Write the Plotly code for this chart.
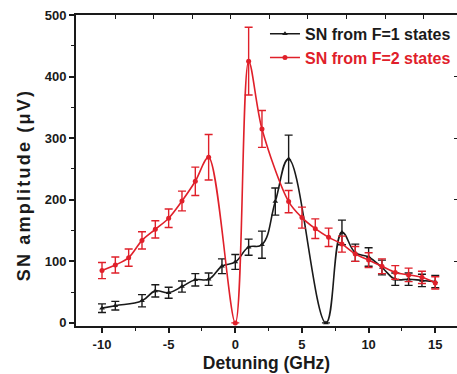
import plotly.graph_objects as go

# F=1 states (black, triangles)
f1_x = [-10, -9, -7, -6, -5, -4, -3, -2, -1, 0, 1, 2, 3, 4, 6.8, 8, 9, 10, 11, 12, 13, 14, 15]
f1_y = [24, 28, 36, 52, 49, 59, 70, 71, 92, 99, 123, 127, 197, 266, 0, 147, 114, 107, 90, 71, 71, 69, 67]
f1_err = [7, 7, 10, 10, 9, 9, 10, 10, 12, 12, 13, 22, 22, 39, 0, 20, 14, 15, 12, 10, 10, 10, 10]

# F=2 states (red, circles)
f2_x = [-10, -9, -8, -7, -6, -5, -4, -3, -2, 0, 1, 2, 4, 5, 6, 7, 8, 9, 10, 11, 12, 13, 14, 15]
f2_y = [85, 94, 106, 134, 152, 170, 198, 230, 269, 0, 425, 315, 197, 171, 153, 139, 128, 112, 102, 92, 82, 78, 74, 65]
f2_err = [13, 13, 14, 14, 14, 15, 16, 23, 37, 0, 55, 30, 18, 17, 16, 15, 13, 12, 12, 12, 11, 11, 10, 10]

x_ticks = [-10, -5, 0, 5, 10, 15]
y_ticks = [0, 100, 200, 300, 400, 500]
top_ticks = [-9.0, -6.1, -3.2, -0.35, 2.55, 5.45, 8.35, 11.25, 14.15]

BLACK = "#1a1a1a"
RED = "#e0202a"
FONT = "Arial, Liberation Sans, sans-serif"

fig = go.Figure()
fig.add_trace(go.Scatter(
    x=f1_x, y=f1_y, mode="lines+markers",
    name="<b>SN from F=1 states</b>",
    line=dict(color=BLACK, width=1.6, shape="spline", smoothing=1.2),
    marker=dict(symbol="triangle-up", size=5, color=BLACK),
    error_y=dict(type="data", array=f1_err, color=BLACK, thickness=1.4, width=4),
))
fig.add_trace(go.Scatter(
    x=f2_x, y=f2_y, mode="lines+markers",
    name="<b><span style='color:%s'>SN from F=2 states</span></b>" % RED,
    line=dict(color=RED, width=1.6, shape="spline", smoothing=0.9),
    marker=dict(symbol="circle", size=5, color=RED),
    error_y=dict(type="data", array=f2_err, color=RED, thickness=1.4, width=4),
))
# empty trace so that the top/right (mirror) axes get drawn
fig.add_trace(go.Scatter(x=[], y=[], xaxis="x2", yaxis="y2", showlegend=False,
                         hoverinfo="skip"))

fig.update_layout(
    width=457, height=374,
    margin=dict(l=76, r=0, t=15, b=48),
    paper_bgcolor="white", plot_bgcolor="white",
    font=dict(family=FONT, size=12, color=BLACK),
    showlegend=True,
    legend=dict(x=0.496, y=0.994, xanchor="left", yanchor="top",
                bgcolor="rgba(0,0,0,0)", font=dict(size=16, color=BLACK),
                tracegroupgap=0, itemwidth=30),
    xaxis=dict(
        range=[-11.95, 16.63], tickvals=x_ticks,
        ticktext=["<b>%d</b>" % v for v in x_ticks],
        ticks="outside", ticklen=5, tickwidth=1.5, tickcolor=BLACK,
        minor=dict(dtick=2.5, tick0=0, ticks="outside", ticklen=3, tickwidth=1.2, tickcolor=BLACK),
        showline=True, linecolor=BLACK, linewidth=2, showgrid=False, zeroline=False,
        tickfont=dict(size=13),
        title=dict(text="<b>Detuning (GHz)</b>", font=dict(size=17.5), standoff=6),
    ),
    xaxis2=dict(
        overlaying="x", side="top", range=[-11.95, 16.63], tickvals=top_ticks,
        showticklabels=False, ticks="inside", ticklen=4, tickwidth=1.2, tickcolor=BLACK,
        showline=True, linecolor=BLACK, linewidth=2, showgrid=False, zeroline=False,
    ),
    yaxis=dict(
        range=[-5, 500], tickvals=y_ticks,
        ticktext=["<b>%d</b>" % v for v in y_ticks],
        ticks="outside", ticklen=5, tickwidth=1.5, tickcolor=BLACK,
        minor=dict(dtick=50, tick0=0, ticks="outside", ticklen=3, tickwidth=1.2, tickcolor=BLACK),
        showline=True, linecolor=BLACK, linewidth=2, showgrid=False, zeroline=False,
        tickfont=dict(size=13),
    ),
    yaxis2=dict(
        overlaying="y", side="right", range=[-5, 500], tickvals=y_ticks[1:],
        showticklabels=False, ticks="inside", ticklen=3, tickwidth=1.2, tickcolor=BLACK,
        showline=False, showgrid=False, zeroline=False,
    ),
    annotations=[dict(
        text="<b><span style='letter-spacing:2.2px'>SN amplitude (\u03bcV)</span></b>",
        textangle=-90, xref="paper", yref="paper", x=-0.136, y=0.453,
        xanchor="center", yanchor="middle", showarrow=False,
        font=dict(size=18, color=BLACK),
    )],
)

fig.write_html("out.html")
